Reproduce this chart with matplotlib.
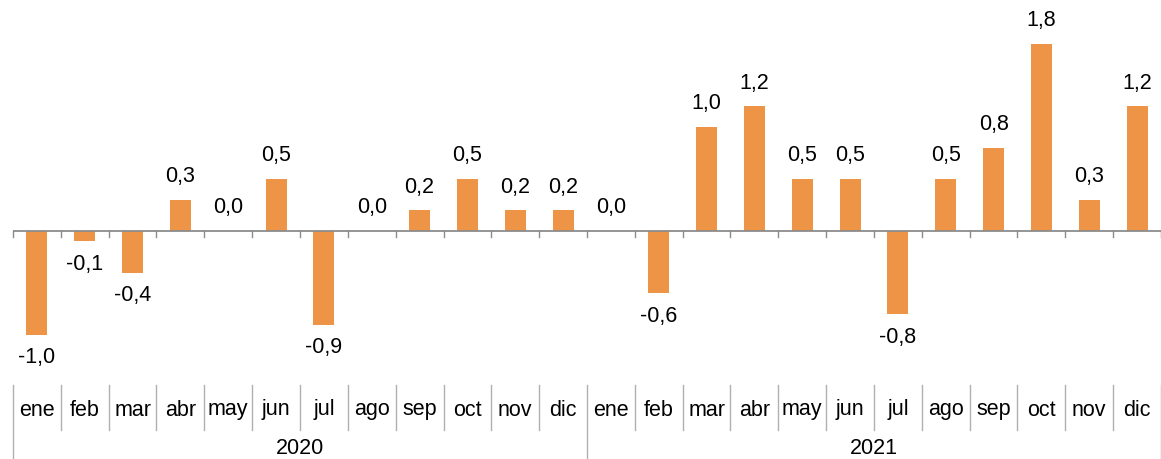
import matplotlib
matplotlib.use("Agg")
import matplotlib.pyplot as plt

months = ["ene", "feb", "mar", "abr", "may", "jun", "jul", "ago", "sep", "oct", "nov", "dic"]
years = ["2020", "2021"]
values_2020 = [-1.0, -0.1, -0.4, 0.3, 0.0, 0.5, -0.9, 0.0, 0.2, 0.5, 0.2, 0.2]
values_2021 = [0.0, -0.6, 1.0, 1.2, 0.5, 0.5, -0.8, 0.5, 0.8, 1.8, 0.3, 1.2]

values = values_2020 + values_2021
labels = months * len(years)
n = len(values)

plt.rcParams['font.family'] = ['Liberation Sans', 'DejaVu Sans']

W, H = 1161, 459
fig = plt.figure(figsize=(W / 100, H / 100), dpi=100)
x0 = 13
ax = fig.add_axes([x0 / W, 0, (W - x0) / W, 1])
ax.set_xlim(-0.5, n - 0.5)
zero_px = 231
ppu = 104
ax.set_ylim((zero_px - H) / ppu, zero_px / ppu)
ax.axis('off')

bar_color = '#ED9447'
xs = list(range(n))
ax.bar(xs, values, width=0.44, color=bar_color, zorder=2)

# zero line with ticks
axis_color = '#8c8c8c'
ax.axhline(0, color=axis_color, lw=1.3, zorder=3)
for b in range(n + 1):
    ax.plot([b - 0.5, b - 0.5], [0, -6 / ppu], color=axis_color, lw=1.0, zorder=3, clip_on=False)

fs = 15.5
# data labels
for x, v in zip(xs, values):
    txt = f"{v:.1f}".replace('.', ',')
    off = 23 if v >= 0 else -23
    ax.annotate(txt, (x, v), xytext=(0, off), textcoords='offset pixels',
                ha='center', va='center', fontsize=fs, color='#000000')

# category axis
trans = ax.get_xaxis_transform()
sep_color = '#b0b0b0'
top_f = 1 - 385 / H
mon_bot_f = 1 - 430 / H
for b in range(n + 1):
    if b % 12 == 0:
        ax.plot([b - 0.5, b - 0.5], [top_f, 0], transform=trans, color=sep_color, lw=1.0, clip_on=False)
    else:
        ax.plot([b - 0.5, b - 0.5], [top_f, mon_bot_f], transform=trans, color=sep_color, lw=1.0, clip_on=False)

for x, lab in zip(xs, labels):
    ax.text(x, 1 - 410 / H, lab, transform=trans, ha='center', va='center', fontsize=fs)

for i, y in enumerate(years):
    ax.text(i * 12 + 5.5, 1 - 449 / H, y, transform=trans, ha='center', va='center', fontsize=fs)

fig.savefig("out.png", dpi=100)
